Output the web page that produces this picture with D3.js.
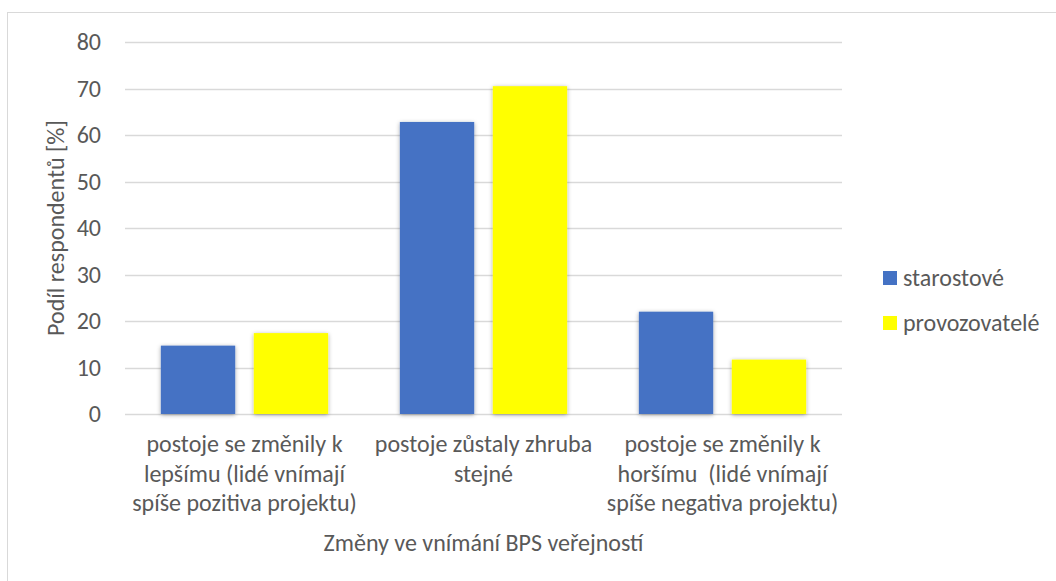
<!DOCTYPE html>
<html>
<head>
<meta charset="utf-8">
<script src="https://cdn.jsdelivr.net/npm/d3@7"></script>
<style>
  body { margin: 0; background: #fff; }
  svg text { font-family: Carlito, Calibri, 'Liberation Sans Narrow', 'Noto Sans', sans-serif; fill: #595959; }
</style>
</head>
<body>
<div id="chart"></div>
<script>
// data
const categories = [
  ['postoje se změnily k', 'lepšímu (lidé vnímají', 'spíše pozitiva projektu)'],
  ['postoje zůstaly zhruba', 'stejné'],
  ['postoje se změnily k', 'horšímu  (lidé vnímají', 'spíše negativa projektu)'],
];
const seriesNames = ['starostové', 'provozovatelé'];
const starostove = [14.7, 62.8, 22.0];
const provozovatele = [17.4, 70.5, 11.7];
const yTicks = [0, 10, 20, 30, 40, 50, 60, 70, 80];

const colors = ['#4472c4', '#ffff00'];
const fontSize = 24;
const width = 1056;
const height = 581;
const margin = { left: 125, right: 214, top: 42, bottom: 167 };
const innerW = width - margin.left - margin.right;
const innerH = height - margin.top - margin.bottom;

const svg = d3.select('#chart')
  .append('svg')
  .attr('width', width)
  .attr('height', height);

// drop shadow like office charts
const defs = svg.append('defs');
const filter = defs.append('filter')
  .attr('id', 'shadow')
  .attr('x', '-20%').attr('y', '-20%')
  .attr('width', '140%').attr('height', '140%');
filter.append('feDropShadow')
  .attr('dx', 0).attr('dy', 1)
  .attr('stdDeviation', 2)
  .attr('flood-color', '#000')
  .attr('flood-opacity', 0.35);

// outer frame
svg.append('rect')
  .attr('x', 7.5).attr('y', 12.5)
  .attr('width', width).attr('height', height)
  .attr('fill', 'none')
  .attr('stroke', '#d9d9d9');

const g = svg.append('g')
  .attr('transform', `translate(${margin.left},${margin.top})`);

const x0 = d3.scaleBand()
  .domain(d3.range(categories.length))
  .range([0, innerW])
  .paddingInner(0.3)
  .paddingOuter(0.15);

const x1 = d3.scaleBand()
  .domain(d3.range(seriesNames.length))
  .range([0, x0.bandwidth()])
  .paddingInner(0.2);

const y = d3.scaleLinear()
  .domain([0, 80])
  .range([innerH, 0]);

// gridlines
g.append('g')
  .selectAll('line')
  .data(yTicks)
  .join('line')
  .attr('x1', 0).attr('x2', innerW)
  .attr('y1', (d) => Math.round(y(d)) + 0.5)
  .attr('y2', (d) => Math.round(y(d)) + 0.5)
  .attr('stroke', '#d9d9d9')
  .attr('stroke-width', 1.3);

// y axis labels
g.append('g')
  .call(d3.axisLeft(y).tickValues(yTicks).tickSize(0).tickPadding(24))
  .call((a) => a.select('.domain').remove())
  .selectAll('text')
  .attr('font-size', fontSize);

// bars
const series = [starostove, provozovatele];
series.forEach((values, si) => {
  g.append('g')
    .selectAll('rect')
    .data(values)
    .join('rect')
    .attr('x', (d, i) => x0(i) + x1(si))
    .attr('width', x1.bandwidth())
    .attr('y', (d) => y(d))
    .attr('height', (d) => y(0) - y(d))
    .attr('fill', colors[si])
    .attr('filter', 'url(#shadow)');
});

// category labels
const catG = g.append('g');
categories.forEach((lines, i) => {
  const t = catG.append('text')
    .attr('x', x0(i) + x0.bandwidth() / 2)
    .attr('y', innerH + 38)
    .attr('text-anchor', 'middle')
    .attr('font-size', fontSize);
  lines.forEach((line, li) => {
    t.append('tspan')
      .attr('x', x0(i) + x0.bandwidth() / 2)
      .attr('dy', li === 0 ? 0 : 29.5)
      .attr('xml:space', 'preserve')
      .text(line);
  });
});

// axis titles
g.append('text')
  .attr('x', innerW / 2)
  .attr('y', innerH + 137)
  .attr('text-anchor', 'middle')
  .attr('font-size', fontSize)
  .text('Změny ve vnímání BPS veřejností');

g.append('text')
  .attr('transform', `translate(${-margin.left + 57},${innerH / 2}) rotate(-90)`)
  .attr('text-anchor', 'middle')
  .attr('dy', '0.3em')
  .attr('font-size', fontSize)
  .text('Podíl respondentů [%]');

// legend
const legend = svg.append('g')
  .attr('transform', 'translate(883,271)');
seriesNames.forEach((name, i) => {
  const row = legend.append('g')
    .attr('transform', `translate(0,${i * 45})`);
  row.append('rect')
    .attr('width', 14).attr('height', 14)
    .attr('fill', colors[i]);
  row.append('text')
    .attr('x', 20).attr('y', 7)
    .attr('dy', '0.35em')
    .attr('font-size', fontSize)
    .text(name);
});
</script>
</body>
</html>
